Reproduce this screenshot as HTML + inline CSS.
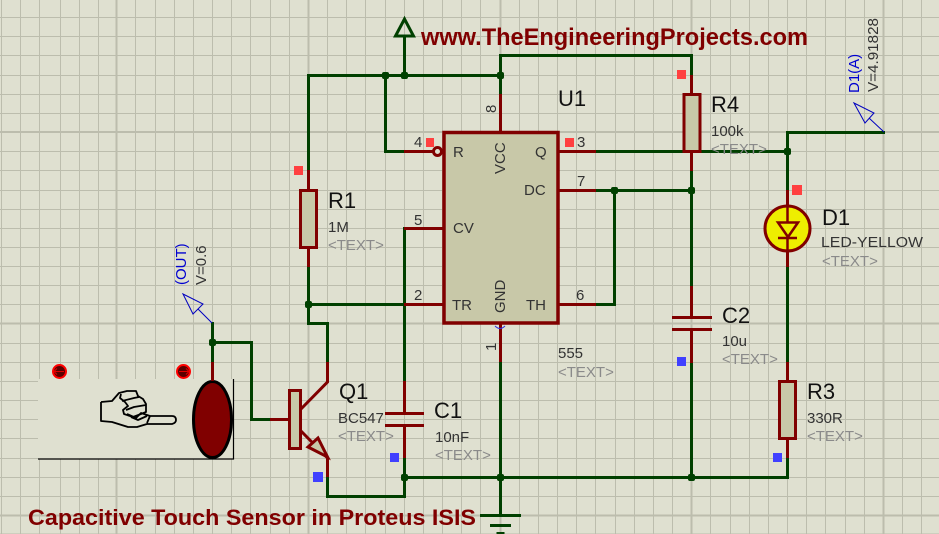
<!DOCTYPE html>
<html><head><meta charset="utf-8"><style>
html,body{margin:0;padding:0;background:#dfe0d0;width:939px;height:534px;overflow:hidden}
svg{display:block}
text{font-family:"Liberation Sans",sans-serif}
.g{stroke:#004000;stroke-width:3;fill:none;stroke-linecap:square}
.r{stroke:#800000;stroke-width:3;fill:none}
.b{fill:#c8c8a8;stroke:#800000;stroke-width:3}
.t{font-size:15px;fill:#333}
.n{font-size:22px;fill:#111}
.x{font-size:15px;fill:#8a8a8a}
.h{font-weight:bold;fill:#800000}
</style></head><body>
<svg width="939" height="534" viewBox="0 0 939 534" xmlns="http://www.w3.org/2000/svg">
<rect width="939" height="534" fill="#dfe0d0"/>
<path shape-rendering="crispEdges" stroke="#bcbdad" stroke-width="1" fill="none" d="M1.5 0V534M20.5 0V534M39.5 0V534M60.5 0V534M79.5 0V534M98.5 0V534M135.5 0V534M155.5 0V534M174.5 0V534M193.5 0V534M212.5 0V534M231.5 0V534M250.5 0V534M270.5 0V534M289.5 0V534M327.5 0V534M346.5 0V534M365.5 0V534M385.5 0V534M404.5 0V534M423.5 0V534M442.5 0V534M461.5 0V534M480.5 0V534M519.5 0V534M538.5 0V534M557.5 0V534M576.5 0V534M595.5 0V534M615.5 0V534M634.5 0V534M653.5 0V534M672.5 0V534M710.5 0V534M730.5 0V534M749.5 0V534M768.5 0V534M787.5 0V534M806.5 0V534M825.5 0V534M845.5 0V534M864.5 0V534M902.5 0V534M921.5 0V534
M0 17.5H939M0 36.5H939M0 55.5H939M0 75.5H939M0 94.5H939M0 113.5H939M0 151.5H939M0 170.5H939M0 190.5H939M0 209.5H939M0 228.5H939M0 247.5H939M0 266.5H939M0 285.5H939M0 304.5H939M0 343.5H939M0 362.5H939M0 381.5H939M0 400.5H939M0 419.5H939M0 438.5H939M0 458.5H939M0 477.5H939M0 496.5H939M0 534H939"/>
<path shape-rendering="crispEdges" stroke="#bcbdad" stroke-width="2" fill="none" d="M116.5 0V534M308.5 0V534M500.5 0V534M691.5 0V534M883.5 0V534M0 132H939M0 323.5H939M0 515.5H939"/>

<!-- sensor block -->
<rect x="38" y="379" width="195" height="80" fill="#dfe0d0"/>
<path d="M38 459H233.5V379" stroke="#000" stroke-width="1.2" fill="none"/>
<ellipse cx="212.5" cy="419.5" rx="19" ry="38" fill="#800000" stroke="#000" stroke-width="3"/>
<g stroke="#000" stroke-width="1.8" fill="none" stroke-linejoin="round">
<path d="M101 402V421L112 422L128 427H137L147 424H172Q176 423 176 420Q176 416 172 416H150L147 423"/>
<path d="M101 402L112 401L119 393L127 391H136L138 396L143 399L146 404V412L141 414L133 417L124 414L123 410L128 406L125 402L120 398L121 394"/>
<path d="M122 401L134 398L139 397M126 410L134 407L146 405M127 414L136 418L141 413L150 416M131 417L138 420L147 416"/>
</g>
<g>
<circle cx="59.5" cy="371.5" r="6.5" fill="#5a0000" stroke="#f00" stroke-width="2"/>
<circle cx="183.5" cy="371.5" r="6.5" fill="#5a0000" stroke="#f00" stroke-width="2"/>
<path d="M64 371.5H54M57 368.5L54 371.5L57 374.5M179 371.5H189M186 368.5L189 371.5L186 374.5" stroke="#e00000" stroke-width="1" fill="none"/>
</g>

<!-- green wires -->
<g class="g">
<path d="M308.5 170V75.5H500.5M385.5 75.5V151.5H404M404.5 75.5V36"/>
<path d="M395.5 36L404.5 19L413.5 36Z" stroke-linejoin="miter"/>
<path d="M500.5 94V55.5H691.5V75"/>
<path d="M596 151.5H683M700 151.5H787.5M787.5 190V132.5H883.5"/>
<path d="M596 190.5H691.5M691.5 171V286M691.5 363V477.5"/>
<path d="M596 304.5H614.5V190.5"/>
<path d="M308.5 267V323.5H327.5V362"/>
<path d="M308.5 304.5H404M404.5 228.5V381"/>
<path d="M404.5 458V496.5H327.5V477"/>
<path d="M404.5 477.5H787.5V458M787.5 267V362"/>
<path d="M500.5 362V515.5M481.5 515.5H519.5M491.5 525.5H509.5M498 533.5H503"/>
<path d="M212.5 323.5V362M212.5 342.5H251.5V419.5H270"/>
</g>
<g fill="#004000">
<rect x="382" y="72" width="7" height="7" rx="2"/><rect x="401" y="72" width="7" height="7" rx="2"/><rect x="497" y="72" width="7" height="7" rx="2"/>
<rect x="784" y="148" width="7" height="7" rx="2"/><rect x="688" y="187" width="7" height="7" rx="2"/><rect x="611" y="187" width="7" height="7" rx="2"/>
<rect x="305" y="301" width="7" height="7" rx="2"/><rect x="209" y="339" width="7" height="7" rx="2"/>
<rect x="401" y="474" width="7" height="7" rx="2"/><rect x="497" y="474" width="7" height="7" rx="2"/><rect x="688" y="474" width="7" height="7" rx="2"/>
</g>

<!-- red pins -->
<g class="r">
<path d="M500.5 94V132M404 151.5H433M558 151.5H596M558 190.5H596M404 228.5H444M404 304.5H444M558 304.5H596M500.5 323V362"/>
<path d="M691.5 75V94M691.5 151V171M308.5 170V190M308.5 248V267"/>
<path d="M787.5 190V205M787.5 252V267M787.5 362V381M787.5 439V458"/>
<path d="M691.5 286V317M691.5 329V363M672 317.5H712M672 329.5H712"/>
<path d="M404.5 381V413M404.5 425V458M385 413.5H424M385 425.5H424"/>
<path d="M327.5 362V382L300 410M300 430L327.5 458V477M270 419.5H289M212.5 362V381"/>
</g>
<path d="M318 438L308 447L327.5 457Z" fill="#c8c8a8" stroke="#800000" stroke-width="3"/>

<!-- bodies -->
<rect x="444" y="132.5" width="114" height="190.5" fill="#c8c8a8" stroke="#800000" stroke-width="3.5"/>
<circle cx="437.5" cy="151.5" r="4" fill="#dfe0d0" stroke="#800000" stroke-width="3"/>
<rect class="b" x="684" y="94.5" width="16" height="57"/>
<rect class="b" x="300.5" y="190.5" width="16" height="57"/>
<rect class="b" x="779.5" y="381.5" width="16" height="57"/>
<rect class="b" x="289.5" y="390.5" width="11" height="58"/>
<circle cx="787.5" cy="228.5" r="22.5" fill="#eeee00" stroke="#800000" stroke-width="3"/>
<path d="M778 222.5H798L788 237Z" fill="#eeee00" stroke="#800000" stroke-width="2.5"/>
<path d="M778 238H797M787.5 205V222M787.5 238V252" stroke="#800000" stroke-width="2.5" fill="none"/>
<path d="M495 326Q500 331 505 326" stroke="#3030e0" stroke-width="1" fill="none"/>

<!-- probes -->
<g stroke="#0000c0" stroke-width="1" fill="none">
<path d="M183 294L203 304L193 314ZM198 309L212 323"/>
<path d="M854 103L874 113L865 123ZM869 118L884 132"/>
</g>

<!-- markers -->
<g fill="#ff4040">
<rect x="677" y="70" width="9" height="9"/><rect x="792" y="185" width="10" height="10"/><rect x="565" y="138" width="9" height="9"/><rect x="426" y="138" width="8" height="9"/><rect x="294" y="166" width="9" height="9"/>
</g>
<g fill="#4040ff">
<rect x="313" y="472" width="10" height="10"/><rect x="390" y="453" width="9" height="9"/><rect x="677" y="357" width="9" height="9"/><rect x="773" y="453" width="9" height="9"/>
</g>

<!-- titles -->
<text class="h" x="421" y="45" font-size="24" textLength="387" lengthAdjust="spacingAndGlyphs">www.TheEngineeringProjects.com</text>
<text class="h" x="28" y="525" font-size="22" textLength="448" lengthAdjust="spacingAndGlyphs">Capacitive Touch Sensor in Proteus ISIS</text>

<!-- names -->
<text class="n" x="558" y="106">U1</text>
<text class="n" x="711" y="112">R4</text>
<text class="n" x="328" y="208">R1</text>
<text class="n" x="822" y="225">D1</text>
<text class="n" x="722" y="323">C2</text>
<text class="n" x="339" y="399">Q1</text>
<text class="n" x="807" y="399">R3</text>
<text class="n" x="434" y="418">C1</text>

<!-- values -->
<text class="t" x="711" y="136">100k</text>
<text class="t" x="328" y="232">1M</text>
<text class="t" x="821" y="247" textLength="102" lengthAdjust="spacingAndGlyphs">LED-YELLOW</text>
<text class="t" x="722" y="346">10u</text>
<text class="t" x="558" y="358">555</text>
<text class="t" x="338" y="423">BC547</text>
<text class="t" x="807" y="423">330R</text>
<text class="t" x="435" y="442">10nF</text>
<text class="x" x="711" y="154">&lt;TEXT&gt;</text>
<text class="x" x="328" y="250">&lt;TEXT&gt;</text>
<text class="x" x="822" y="266">&lt;TEXT&gt;</text>
<text class="x" x="722" y="364">&lt;TEXT&gt;</text>
<text class="x" x="558" y="377">&lt;TEXT&gt;</text>
<text class="x" x="338" y="441">&lt;TEXT&gt;</text>
<text class="x" x="807" y="441">&lt;TEXT&gt;</text>
<text class="x" x="435" y="460">&lt;TEXT&gt;</text>

<!-- IC labels -->
<text class="t" x="453" y="157">R</text>
<text class="t" x="535" y="157">Q</text>
<text class="t" x="524" y="195">DC</text>
<text class="t" x="453" y="233">CV</text>
<text class="t" x="452" y="310">TR</text>
<text class="t" x="526" y="310">TH</text>
<text class="t" transform="translate(505 174) rotate(-90)">VCC</text>
<text class="t" transform="translate(505 313) rotate(-90)">GND</text>
<text class="t" x="414" y="147">4</text>
<text class="t" x="577" y="147">3</text>
<text class="t" x="577" y="186">7</text>
<text class="t" x="414" y="225">5</text>
<text class="t" x="414" y="300">2</text>
<text class="t" x="576" y="300">6</text>
<text class="t" transform="translate(496 113) rotate(-90)">8</text>
<text class="t" transform="translate(496 351) rotate(-90)">1</text>

<!-- probe labels -->
<text font-size="15" fill="#0000d0" transform="translate(186 285) rotate(-90)">(OUT)</text>
<text class="t" transform="translate(206 285) rotate(-90)">V=0.6</text>
<text font-size="15" fill="#0000d0" transform="translate(859 93) rotate(-90)">D1(A)</text>
<text class="t" transform="translate(878 92) rotate(-90)" textLength="74" lengthAdjust="spacingAndGlyphs">V=4.91828</text>
</svg>
</body></html>
